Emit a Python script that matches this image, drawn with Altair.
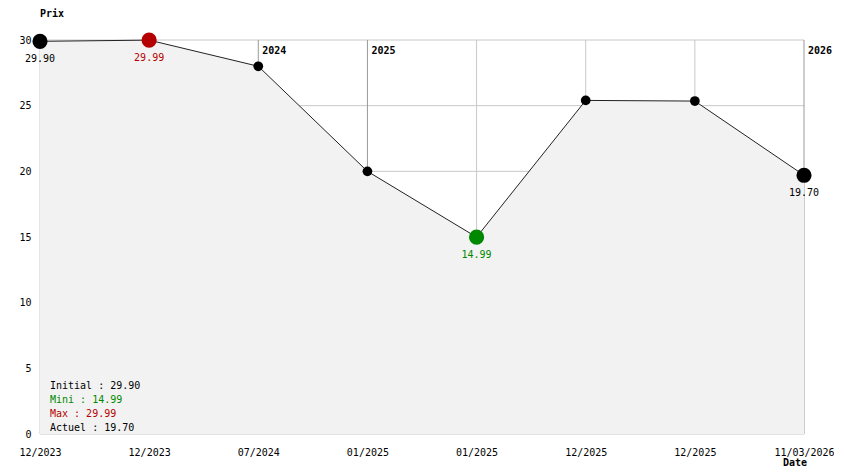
import json
import altair as alt
import pandas as pd

# ---- data ----
dates = ["12/2023", "12/2023", "07/2024", "01/2025", "01/2025", "12/2025", "12/2025", "11/03/2026"]
prices = [29.90, 29.99, 28.0, 20.0, 14.99, 25.4, 25.35, 19.70]
kinds = ["initial", "max", "normal", "normal", "min", "normal", "normal", "actuel"]
year_idx = [2, 3, 7]
year_labels = ["2024", "2025", "2026"]
y_ticks = [0, 5, 10, 15, 20, 25, 30]
legend_lines = ["Initial : 29.90", "Mini : 14.99", "Max : 29.99", "Actuel : 19.70"]
legend_kinds = ["initial", "min", "max", "actuel"]

FONT = "DejaVu Sans Mono"
W, H = 764, 394

color_map = {"initial": "#000000", "max": "#b40000", "min": "#008800", "actuel": "#000000", "normal": "#000000"}
size_map = {"initial": 230, "max": 230, "min": 230, "actuel": 230, "normal": 95}

df = pd.DataFrame({"i": list(range(len(prices))), "date": dates, "price": prices, "kind": kinds})
df["color"] = df["kind"].map(color_map)
df["size"] = df["kind"].map(size_map)
df["label"] = df["price"].map(lambda v: f"{v:.2f}")

xs = alt.Scale(domain=[0, len(prices) - 1], nice=False, zero=False)
ys = alt.Scale(domain=[0, 30], nice=False, zero=True)

label_expr = json.dumps(dates) + "[datum.value]"

X = alt.X("i:Q", scale=xs, title=None,
          axis=alt.Axis(values=list(range(len(prices))), labelExpr=label_expr, grid=False,
                        ticks=False, domain=False, labelPadding=13, labelFont=FONT,
                        labelFontSize=10, labelColor="#000", labelFlush=False))
Y = alt.Y("price:Q", scale=ys, title=None,
          axis=alt.Axis(values=y_ticks, grid=False, ticks=False, domain=False,
                        labelPadding=9, labelFont=FONT, labelFontSize=10, labelColor="#000"))

# grid
hgrid = pd.DataFrame({"y": y_ticks, "x0": 0, "x1": len(prices) - 1})
h_rules = alt.Chart(hgrid).mark_rule(color="#c8c8c8", strokeWidth=1).encode(
    x=alt.X("x0:Q", scale=xs), x2="x1:Q", y=alt.Y("y:Q", scale=ys))

vgrid = pd.DataFrame({"i": list(range(len(prices))), "y0": 0, "y1": 30})
vgrid["c"] = ["#999999" if i in year_idx else "#c8c8c8" for i in vgrid["i"]]
v_rules = alt.Chart(vgrid).mark_rule(strokeWidth=1).encode(
    x=alt.X("i:Q", scale=xs), y=alt.Y("y0:Q", scale=ys), y2="y1:Q",
    color=alt.Color("c:N", scale=None))

base = alt.Chart(df)
area = base.mark_area(color="#f2f2f2", opacity=1).encode(x=X, y=Y)
line = base.mark_line(color="#222222", strokeWidth=1).encode(x=alt.X("i:Q", scale=xs), y=alt.Y("price:Q", scale=ys))
points = base.mark_circle(opacity=1).encode(
    x=alt.X("i:Q", scale=xs), y=alt.Y("price:Q", scale=ys),
    color=alt.Color("color:N", scale=None), size=alt.Size("size:Q", scale=None))
labels = base.transform_filter("datum.kind != 'normal'").mark_text(
    font=FONT, fontSize=10, baseline="middle", align="center", dy=18).encode(
    x=alt.X("i:Q", scale=xs), y=alt.Y("price:Q", scale=ys), text="label:N",
    color=alt.Color("color:N", scale=None))

ydf = pd.DataFrame({"i": year_idx, "t": year_labels, "top": 30})
year_text = alt.Chart(ydf).mark_text(font=FONT, fontSize=10, fontWeight="bold", align="left",
                                     baseline="middle", dx=4, dy=11, color="#000").encode(
    x=alt.X("i:Q", scale=xs), y=alt.Y("top:Q", scale=ys), text="t:N")

ldf = pd.DataFrame({"t": legend_lines, "row": list(range(len(legend_lines))),
                    "color": [color_map[k] for k in legend_kinds]})
legend = alt.Chart(ldf).transform_calculate(py="346 + 14 * datum.row").mark_text(
    font=FONT, fontSize=10, align="left", baseline="middle").encode(
    x=alt.value(10), y=alt.Y("py:Q", scale=None), text="t:N",
    color=alt.Color("color:N", scale=None))

tdf = pd.DataFrame({"t": ["Prix", "Date"], "px": [0, 743], "py": [-26, 423]})
titles = alt.Chart(tdf).mark_text(font=FONT, fontSize=10, fontWeight="bold", align="left",
                                  baseline="middle", color="#000").encode(
    x=alt.X("px:Q", scale=None), y=alt.Y("py:Q", scale=None), text="t:N")

chart = alt.layer(h_rules, v_rules, area, line, points, labels, year_text, legend, titles).properties(
    width=W, height=H, autosize=alt.AutoSizeParams(type="none"),
    padding={"left": 32, "top": 32, "right": 30, "bottom": 36},
    background="white",
).configure_view(stroke=None)

chart.save("out.html", embed_options={"renderer": "svg", "actions": False})
